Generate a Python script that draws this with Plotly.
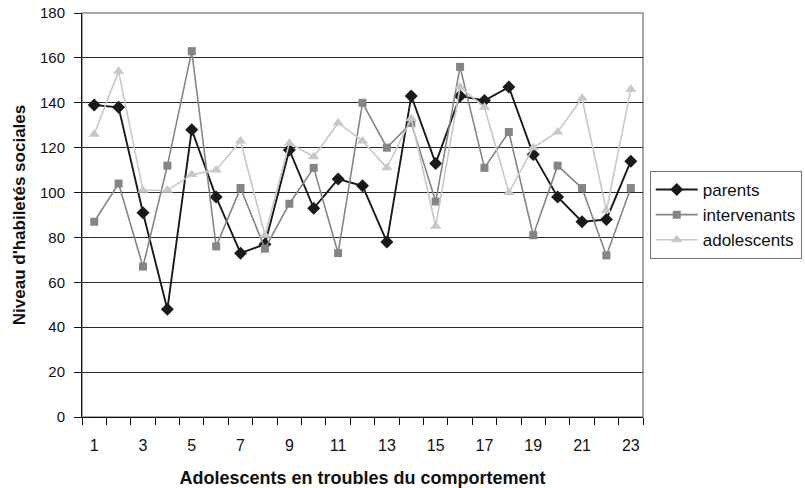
import plotly.graph_objects as go

# Sujets (adolescents 1 à 23) et scores d'habiletés sociales par évaluateur
sujets = list(range(1, 24))
parents = [139, 138, 91, 48, 128, 98, 73, 77, 119, 93, 106, 103, 78, 143, 113, 143,
           141, 147, 117, 98, 87, 88, 114]
intervenants = [87, 104, 67, 112, 163, 76, 102, 75, 95, 111, 73, 140, 120, 131, 96, 156,
                111, 127, 81, 112, 102, 72, 102]
adolescents = [126, 154, 101, 101, 108, 110, 123, 81, 122, 116, 131, 123, 111, 133, 85, 147,
               138, 100, 120, 127, 142, 92, 146]

x_labels = [str(v) for v in range(1, 24, 2)]
y_ticks = list(range(0, 181, 20))

FONT = "Liberation Sans, Arial, sans-serif"

fig = go.Figure()
series = [
    ("parents", parents, "#1a1a1a", "diamond", 10, 1.9),
    ("intervenants", intervenants, "#858585", "square", 8, 1.6),
    ("adolescents", adolescents, "#c8c8c8", "triangle-up", 10, 1.6),
]
for name, vals, color, symbol, size, lw in series:
    fig.add_trace(go.Scatter(
        x=sujets, y=vals, name=name, mode="lines+markers",
        line=dict(color=color, width=lw),
        marker=dict(symbol=symbol, size=size, color=color, line=dict(width=0)),
    ))

fig.update_layout(
    width=805, height=488,
    margin=dict(l=82, r=162, t=13, b=71, autoexpand=False),
    paper_bgcolor="white", plot_bgcolor="white",
    font=dict(family=FONT, size=15, color="#111"),
    legend=dict(
        x=1.012, xanchor="left", y=0.5, yanchor="middle",
        bordercolor="#707070", borderwidth=1,
        font=dict(family=FONT, size=17, color="#111"),
        tracegroupgap=0, itemwidth=42,
    ),
    xaxis=dict(
        range=[0.5, 23.5], tickmode="array",
        tickvals=list(range(1, 24, 2)), ticktext=x_labels,
        ticks="", showgrid=False, zeroline=False,
        showline=True, linecolor="#111", linewidth=1,
        minor=dict(tickmode="linear", tick0=0.5, dtick=1, ticks="outside",
                   ticklen=7, tickcolor="#111", tickwidth=1, showgrid=False),
        tickfont=dict(size=16), ticklabelstandoff=14,
        title=dict(text="<b>Adolescents en troubles du comportement</b>",
                   font=dict(size=18), standoff=19),
    ),
    yaxis=dict(
        range=[0, 180], tickmode="array", tickvals=y_ticks,
        ticks="outside", ticklen=7, tickcolor="#111",
        showgrid=True, gridcolor="#2a2a2a", gridwidth=1, zeroline=False,
        showline=True, linecolor="#111", linewidth=1,
        tickfont=dict(size=15), ticklabelstandoff=6,
        title=dict(text="<b>Niveau d'habiletés sociales</b>",
                   font=dict(size=17), standoff=10),
    ),
    shapes=[dict(type="rect", xref="x domain", yref="y domain",
                 x0=0, x1=1, y0=0, y1=1, line=dict(color="#8a8a8a", width=1.5),
                 layer="below")],
)

fig.write_html("out.html")
